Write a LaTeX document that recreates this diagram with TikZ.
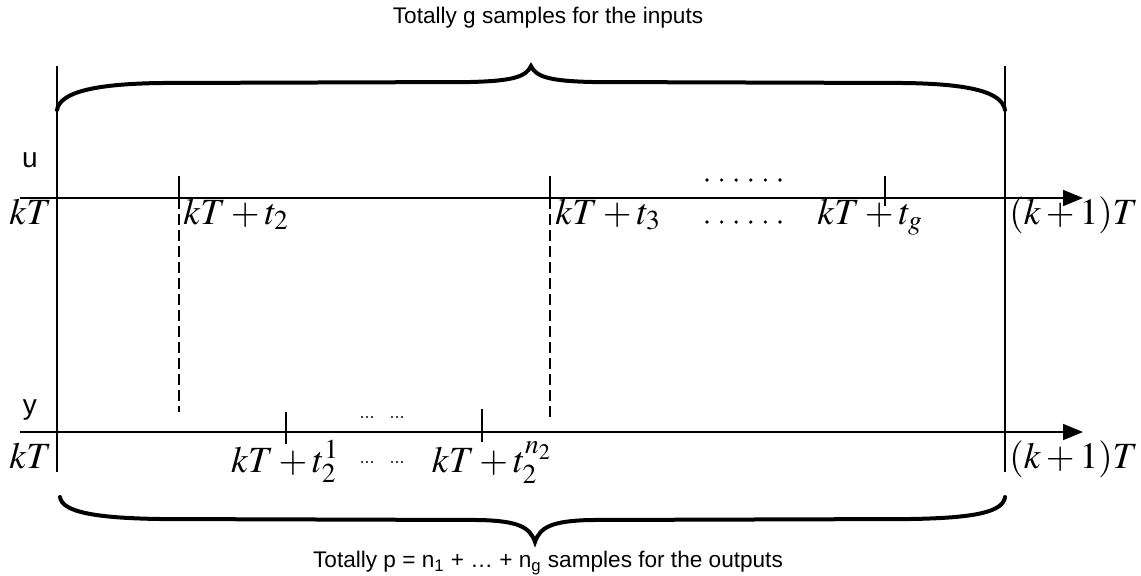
\documentclass[tikz,border=0pt]{standalone}
\usepackage{mathptmx}
\usepackage{fontspec}
\setsansfont{Liberation Sans}
\usetikzlibrary{positioning,calc,arrows.meta}

\begin{document}
\begin{tikzpicture}[
            x=0.5pt, y=-0.5pt,
            axis/.style={
                    line width=0.9pt,
                    -{Triangle[length=10pt,width=8pt]}
                },
            bound/.style={
                    line width=0.6pt
                },
            tick/.style={
                    line width=0.6pt
                },
            sample/.style={
                    line width=1.3pt,
                    dash pattern=on 5.5pt off 2.5pt
                },
            bracefig/.style={
                    line width=2pt,
                    line cap=round
                },
            lbl/.style={
                    inner sep=0pt,
                    font=\fontsize{18.5}{20}\selectfont
                },
            caption/.style={
                    inner sep=0pt,
                    font=\sffamily\fontsize{11.3}{13}\selectfont
                },
            sig/.style={
                    inner sep=0pt,
                    font=\sffamily\fontsize{14}{16}\selectfont
                }
        ]
        \useasboundingbox (0,0) rectangle (1141,575);

        % Frame of the period
        \coordinate (leftTop) at (57,66);
        \coordinate (leftBot) at (57,472);
        \coordinate (rightTop) at (1005,66);
        \coordinate (rightBot) at (1005,472);
        \draw[bound] (leftTop) -- (leftBot);
        \draw[bound] (rightTop) -- (rightBot);

        % Input axis
        \coordinate (uStart) at (20,198);
        \coordinate (uEnd) at (1083,198);
        \draw[axis] (uStart) -- (uEnd);
        \node[sig] (uName) at (30,160) {u};

        \coordinate (tTwoTop) at (179,176);
        \coordinate (tTwoAx) at (179,198);
        \coordinate (tTwoBot) at (179,412);
        \coordinate (tThreeTop) at (550,176);
        \coordinate (tThreeAx) at (550,198);
        \coordinate (tThreeBot) at (550,420);
        \coordinate (tgTop) at (885,176);
        \coordinate (tgBot) at (885,206);
        \draw[tick] (tTwoTop) -- (tTwoAx);
        \draw[tick] (tThreeTop) -- (tThreeAx);
        \draw[tick] (tgTop) -- (tgBot);
        \draw[sample] (tTwoAx) -- (tTwoBot);
        \draw[sample] (tThreeAx) -- (tThreeBot);

        \foreach \i in {0,...,5} {
                \fill (707+14.6*\i,180) circle (0.9pt);
                \fill (707+14.6*\i,222) circle (0.9pt);
            }

        \node[lbl, anchor=base east] (uKT) at (52,224) {$kT$};
        \node[lbl, anchor=base west] (uTwo) at (183,224) {$kT+t_2$};
        \node[lbl, anchor=base west] (uThree) at (555,224) {$kT+t_3$};
        \node[lbl, anchor=base west] (uG) at (817,224) {$kT+t_g$};
        \node[lbl, anchor=base west] (uNext) at (1009,224) {$(k+1)T$};

        % Output axis
        \coordinate (yStart) at (20,432);
        \coordinate (yEnd) at (1083,432);
        \draw[axis] (yStart) -- (yEnd);
        \node[sig] (yName) at (30,410) {y};

        \coordinate (sOneTop) at (286,412);
        \coordinate (sOneBot) at (286,444);
        \coordinate (sNTop) at (482,409);
        \coordinate (sNBot) at (482,442);
        \draw[tick] (sOneTop) -- (sOneBot);
        \draw[tick] (sNTop) -- (sNBot);

        \foreach \i in {0,1,2} {
                \fill (362+5*\i,417) circle (0.6pt);
                \fill (392+5*\i,417) circle (0.6pt);
                \fill (362+5*\i,462) circle (0.6pt);
                \fill (392+5*\i,462) circle (0.6pt);
            }

        \node[lbl, anchor=base east] (yKT) at (52,468) {$kT$};
        \node[lbl, anchor=base] (yOne) at (285,472) {$kT+t_2^1$};
        \node[lbl, anchor=base] (yN) at (492,472) {$kT+t_2^{n_2}$};
        \node[lbl, anchor=base west] (yNext) at (1009,468) {$(k+1)T$};

        % Braces
        \draw[bracefig] (57,110) .. controls (60,92) and (95,84) .. (160,83)
            -- (470,82) .. controls (512,81) and (526,77) .. (531,66)
            .. controls (536,77) and (550,81) .. (592,82)
            -- (905,83) .. controls (970,84) and (1002,92) .. (1005,110);
        \draw[bracefig] (60,497) .. controls (62,512) and (95,518) .. (160,519)
            -- (480,520) .. controls (518,521) and (530,527) .. (535,542)
            .. controls (540,527) and (552,521) .. (590,520)
            -- (910,519) .. controls (975,518) and (1003,512) .. (1005,497);

        \node[caption] (inputs) at (548,18) {Totally g samples for the inputs};
        \node[caption] (outputs) at (548,563) {Totally p = n\textsubscript{1} + \dots{} + n\textsubscript{g} samples for the outputs};

    \end{tikzpicture}
\end{document}
